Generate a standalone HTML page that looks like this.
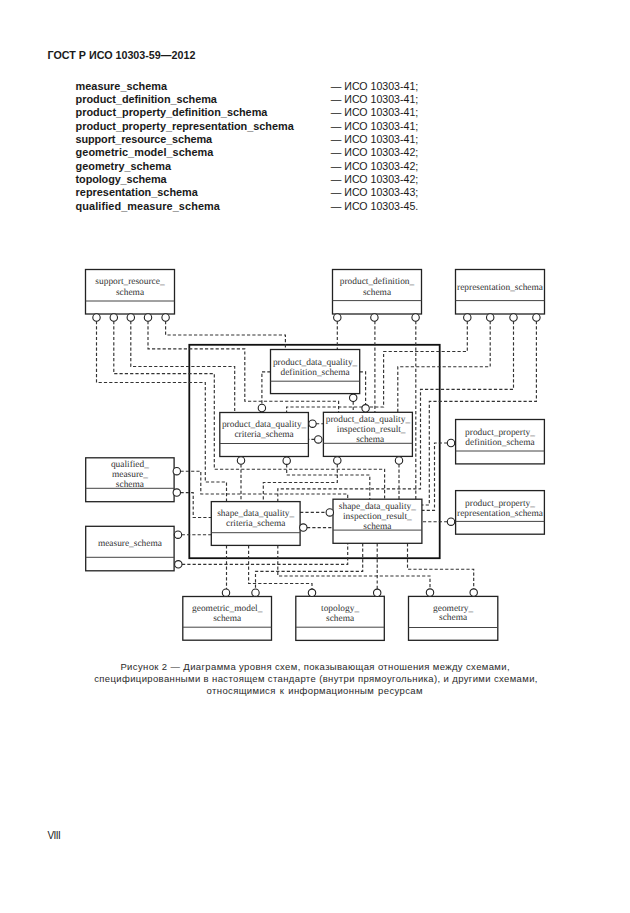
<!DOCTYPE html>
<html><head><meta charset="utf-8"><style>
html,body{margin:0;padding:0;background:#fff;}
body{width:630px;height:913px;position:relative;overflow:hidden;font-family:"Liberation Sans",sans-serif;color:#1a1a1a;}
.hdr{position:absolute;left:47.6px;top:49px;font-weight:bold;font-size:10.72px;line-height:12px;white-space:nowrap;}
.li{position:absolute;left:75.6px;font-weight:bold;font-size:10.9px;line-height:12px;white-space:nowrap;}
.ri{position:absolute;left:330.8px;font-size:10.6px;line-height:12px;white-space:nowrap;}
.cap{position:absolute;font-size:9.5px;letter-spacing:0.37px;line-height:12px;white-space:nowrap;color:#2a2a2a;}
.pg{position:absolute;left:47.4px;top:830.2px;font-size:10px;letter-spacing:-0.5px;line-height:12px;}
svg{position:absolute;left:0;top:0;}
.d{fill:none;stroke:#333;stroke-width:1.15;stroke-dasharray:3.2 2.1;}
.b{fill:none;stroke:#222;stroke-width:1.3;}
.s{stroke:#444;stroke-width:1;}
.c{fill:#fff;stroke:#222;stroke-width:1.1;}
.t{font-family:"Liberation Serif",serif;font-size:9.4px;text-anchor:middle;fill:#333;text-rendering:geometricPrecision;}
</style></head><body>
<div class="hdr">ГОСТ Р ИСО 10303-59—2012</div>
<div class="li" style="top:79.60px;letter-spacing:0px">measure_schema</div><div class="ri" style="top:79.60px">— ИСО 10303-41;</div><div class="li" style="top:92.93px;letter-spacing:-0.037px">product_definition_schema</div><div class="ri" style="top:92.93px">— ИСО 10303-41;</div><div class="li" style="top:106.27px;letter-spacing:-0.02px">product_property_definition_schema</div><div class="ri" style="top:106.27px">— ИСО 10303-41;</div><div class="li" style="top:119.60px;letter-spacing:-0.027px">product_property_representation_schema</div><div class="ri" style="top:119.60px">— ИСО 10303-41;</div><div class="li" style="top:132.93px;letter-spacing:-0.127px">support_resource_schema</div><div class="ri" style="top:132.93px">— ИСО 10303-41;</div><div class="li" style="top:146.26px;letter-spacing:0.048px">geometric_model_schema</div><div class="ri" style="top:146.26px">— ИСО 10303-42;</div><div class="li" style="top:159.60px;letter-spacing:-0.02px">geometry_schema</div><div class="ri" style="top:159.60px">— ИСО 10303-42;</div><div class="li" style="top:172.93px;letter-spacing:-0.12px">topology_schema</div><div class="ri" style="top:172.93px">— ИСО 10303-42;</div><div class="li" style="top:186.26px;letter-spacing:0px">representation_schema</div><div class="ri" style="top:186.26px">— ИСО 10303-43;</div><div class="li" style="top:199.60px;letter-spacing:0.087px">qualified_measure_schema</div><div class="ri" style="top:199.60px">— ИСО 10303-45.</div>
<svg width="630" height="913" viewBox="0 0 630 913">
<rect x="189.3" y="344.8" width="250.4" height="213.4" fill="none" stroke="#111" stroke-width="1.8"/>
<path d="M165.6,321 V335 H285.4 V349.5" class="d"/>
<path d="M148,321 V348.8 H244.8 V401.2 H338.6 V412.3" class="d"/>
<path d="M130.8,321 V366.5 H234.7 V412.5" class="d"/>
<path d="M113.8,321 V373.6 H214.3 V469.2 H384.6 V499.2" class="d"/>
<path d="M96.5,321 V382.5 H205.3 V482 H226.5 V501.6" class="d"/>
<path d="M337.3,321 V349.5" class="d"/>
<path d="M374.9,321 V412.3" class="d"/>
<path d="M415.8,321 V499.2" class="d"/>
<path d="M467.3,321 V351.5 H383.6 V407 H286.6 V412.5" class="d"/>
<path d="M490.2,321 V366.7 H397.8 V412.3" class="d"/>
<path d="M513.5,321 V389.4 H420.5 V488.9 H277.8 V501.6" class="d"/>
<path d="M536.4,321 V401.4 H429.3 V505 H421.9" class="d"/>
<path d="M359.7,371.8 H365.6 V404.5" class="d"/>
<path d="M270.5,371.8 H261.9 V404.3" class="d"/>
<path d="M353.2,401.5 V412.3" class="d"/>
<path d="M316,423.7 H323.4" class="d"/>
<path d="M314.6,439.4 H308.4" class="d"/>
<path d="M241,464.2 V501.6" class="d"/>
<path d="M286.7,464.4 V475 H369.8 V499.2" class="d"/>
<path d="M337.3,464.2 V482.5 H263.3 V501.6" class="d"/>
<path d="M399,464.2 V499.2" class="d"/>
<path d="M447.3,443 H434.5 V510.4 H421.9" class="d"/>
<path d="M447.3,521.7 H421.9" class="d"/>
<path d="M180.5,471.2 H200.8 V494 H347.7 V499.2" class="d"/>
<path d="M180.5,492.6 H193.2 V517.5 H211.3" class="d"/>
<path d="M181.7,534.7 H211.3" class="d"/>
<path d="M182,564.3 H347.7 V543.3" class="d"/>
<path d="M300.1,512.4 H326.1" class="d"/>
<path d="M307,527.6 H333" class="d"/>
<path d="M226.5,545.4 V589" class="d"/>
<path d="M248.6,545.4 V583.5 H312 V589" class="d"/>
<path d="M277.8,545.4 V576 H430 V589" class="d"/>
<path d="M362.7,543.3 V571.3 H255.5 V589" class="d"/>
<path d="M377.2,543.3 V589" class="d"/>
<path d="M407.5,543.3 V569.2 H473.7 V589" class="d"/>
<rect x="85.5" y="269.5" width="89.0" height="44.5" class="b"/>
<line x1="85.5" y1="301" x2="174.5" y2="301" class="s"/>
<text x="130.0" y="284" class="t">support_resource_</text>
<text x="130.0" y="294.8" class="t">schema</text>
<rect x="332.5" y="269.5" width="89.0" height="44.5" class="b"/>
<line x1="332.5" y1="300.6" x2="421.5" y2="300.6" class="s"/>
<text x="377.0" y="284" class="t">product_definition_</text>
<text x="377.0" y="294.8" class="t">schema</text>
<rect x="455.5" y="269.5" width="89.0" height="44.5" class="b"/>
<line x1="455.5" y1="300.6" x2="544.5" y2="300.6" class="s"/>
<text x="500.0" y="290" class="t">representation_schema</text>
<rect x="270.5" y="349.5" width="89.2" height="44.1" class="b"/>
<line x1="270.5" y1="381.2" x2="359.7" y2="381.2" class="s"/>
<text x="315.1" y="364.6" class="t">product_data_quality_</text>
<text x="315.1" y="375" class="t">definition_schema</text>
<rect x="219.8" y="412.5" width="88.6" height="44.0" class="b"/>
<line x1="219.8" y1="443.5" x2="308.4" y2="443.5" class="s"/>
<text x="264.1" y="427.3" class="t">product_data_quality_</text>
<text x="264.1" y="436.8" class="t">criteria_schema</text>
<rect x="323.4" y="412.3" width="89.0" height="44.1" class="b"/>
<line x1="323.4" y1="443.3" x2="412.4" y2="443.3" class="s"/>
<text x="367.9" y="422" class="t">product_data_quality_</text>
<text x="371.2" y="431.7" class="t">inspection_result_</text>
<text x="370.2" y="442" class="t">schema</text>
<rect x="455.6" y="419.5" width="88.8" height="44.4" class="b"/>
<line x1="455.6" y1="451" x2="544.4" y2="451" class="s"/>
<text x="500.0" y="435.3" class="t">product_property_</text>
<text x="500.0" y="444.9" class="t">definition_schema</text>
<rect x="85.7" y="457.8" width="88.4" height="43.9" class="b"/>
<line x1="85.7" y1="488.3" x2="174.1" y2="488.3" class="s"/>
<text x="129.9" y="466.7" class="t">qualified_</text>
<text x="129.9" y="476.8" class="t">measure_</text>
<text x="129.9" y="486.5" class="t">schema</text>
<rect x="455.6" y="490.6" width="88.8" height="43.6" class="b"/>
<line x1="455.6" y1="521.4" x2="544.4" y2="521.4" class="s"/>
<text x="500.0" y="506.2" class="t">product_property_</text>
<text x="500.0" y="515.7" class="t">representation_schema</text>
<rect x="211.3" y="501.6" width="88.8" height="43.8" class="b"/>
<line x1="211.3" y1="532.7" x2="300.1" y2="532.7" class="s"/>
<text x="255.7" y="516.2" class="t">shape_data_quality_</text>
<text x="255.7" y="525.8" class="t">criteria_schema</text>
<rect x="333" y="499.2" width="88.9" height="44.1" class="b"/>
<line x1="333" y1="530.1" x2="421.9" y2="530.1" class="s"/>
<text x="377.4" y="509" class="t">shape_data_quality_</text>
<text x="377.4" y="518.7" class="t">inspection_result_</text>
<text x="377.4" y="529" class="t">schema</text>
<rect x="85.7" y="526.3" width="88.4" height="44.5" class="b"/>
<line x1="85.7" y1="557.3" x2="174.1" y2="557.3" class="s"/>
<text x="129.9" y="546" class="t">measure_schema</text>
<rect x="182.8" y="596.5" width="88.7" height="43.7" class="b"/>
<line x1="182.8" y1="627.2" x2="271.5" y2="627.2" class="s"/>
<text x="227.2" y="610.6" class="t">geometric_model_</text>
<text x="227.2" y="620.8" class="t">schema</text>
<rect x="295.8" y="596.3" width="88.5" height="44.1" class="b"/>
<line x1="295.8" y1="627.2" x2="384.3" y2="627.2" class="s"/>
<text x="340.1" y="610.6" class="t">topology_</text>
<text x="340.1" y="620.8" class="t">schema</text>
<rect x="408.5" y="596.4" width="89.3" height="43.9" class="b"/>
<line x1="408.5" y1="627.5" x2="497.8" y2="627.5" class="s"/>
<text x="453.1" y="610.6" class="t">geometry_</text>
<text x="453.1" y="620.2" class="t">schema</text>
<circle cx="96.5" cy="317.5" r="3.7" class="c"/>
<circle cx="113.8" cy="317.5" r="3.7" class="c"/>
<circle cx="130.8" cy="317.5" r="3.7" class="c"/>
<circle cx="148" cy="317.5" r="3.7" class="c"/>
<circle cx="165.6" cy="317.5" r="3.7" class="c"/>
<circle cx="337.3" cy="317.5" r="3.7" class="c"/>
<circle cx="374.4" cy="317.5" r="3.7" class="c"/>
<circle cx="415.6" cy="317.5" r="3.7" class="c"/>
<circle cx="467.3" cy="317.5" r="3.7" class="c"/>
<circle cx="490.2" cy="317.5" r="3.7" class="c"/>
<circle cx="513.5" cy="317.5" r="3.7" class="c"/>
<circle cx="536.4" cy="317.5" r="3.7" class="c"/>
<circle cx="261.9" cy="408" r="3.7" class="c"/>
<circle cx="365.6" cy="408.3" r="3.7" class="c"/>
<circle cx="353.2" cy="397.8" r="3.7" class="c"/>
<circle cx="312.5" cy="423.7" r="3.7" class="c"/>
<circle cx="318.3" cy="439.4" r="3.7" class="c"/>
<circle cx="241" cy="460.5" r="3.7" class="c"/>
<circle cx="286.7" cy="460.7" r="3.7" class="c"/>
<circle cx="337.3" cy="460.5" r="3.7" class="c"/>
<circle cx="399" cy="460.5" r="3.7" class="c"/>
<circle cx="451" cy="443" r="3.7" class="c"/>
<circle cx="451" cy="521.7" r="3.7" class="c"/>
<circle cx="176.8" cy="471.2" r="3.7" class="c"/>
<circle cx="176.8" cy="492.6" r="3.7" class="c"/>
<circle cx="178" cy="534.7" r="3.7" class="c"/>
<circle cx="178.3" cy="564.3" r="3.7" class="c"/>
<circle cx="303.3" cy="527.6" r="3.7" class="c"/>
<circle cx="329.8" cy="512.4" r="3.7" class="c"/>
<circle cx="226" cy="592.7" r="3.7" class="c"/>
<circle cx="255.5" cy="592.7" r="3.7" class="c"/>
<circle cx="312" cy="592.8" r="3.7" class="c"/>
<circle cx="377.2" cy="592.8" r="3.7" class="c"/>
<circle cx="430" cy="592.6" r="3.7" class="c"/>
<circle cx="473.7" cy="592.6" r="3.7" class="c"/>
</svg>
<div class="cap" style="top:661.1px;left:120.4px">Рисунок 2 — Диаграмма уровня схем, показывающая отношения между схемами,</div>
<div class="cap" style="top:673.1px;left:94.2px">специфицированными в настоящем стандарте (внутри прямоугольника), и другими схемами,</div>
<div class="cap" style="top:684.8px;left:206.6px;word-spacing:1.0px">относящимися к информационным ресурсам</div>
<div class="pg">VIII</div>
</body></html>
